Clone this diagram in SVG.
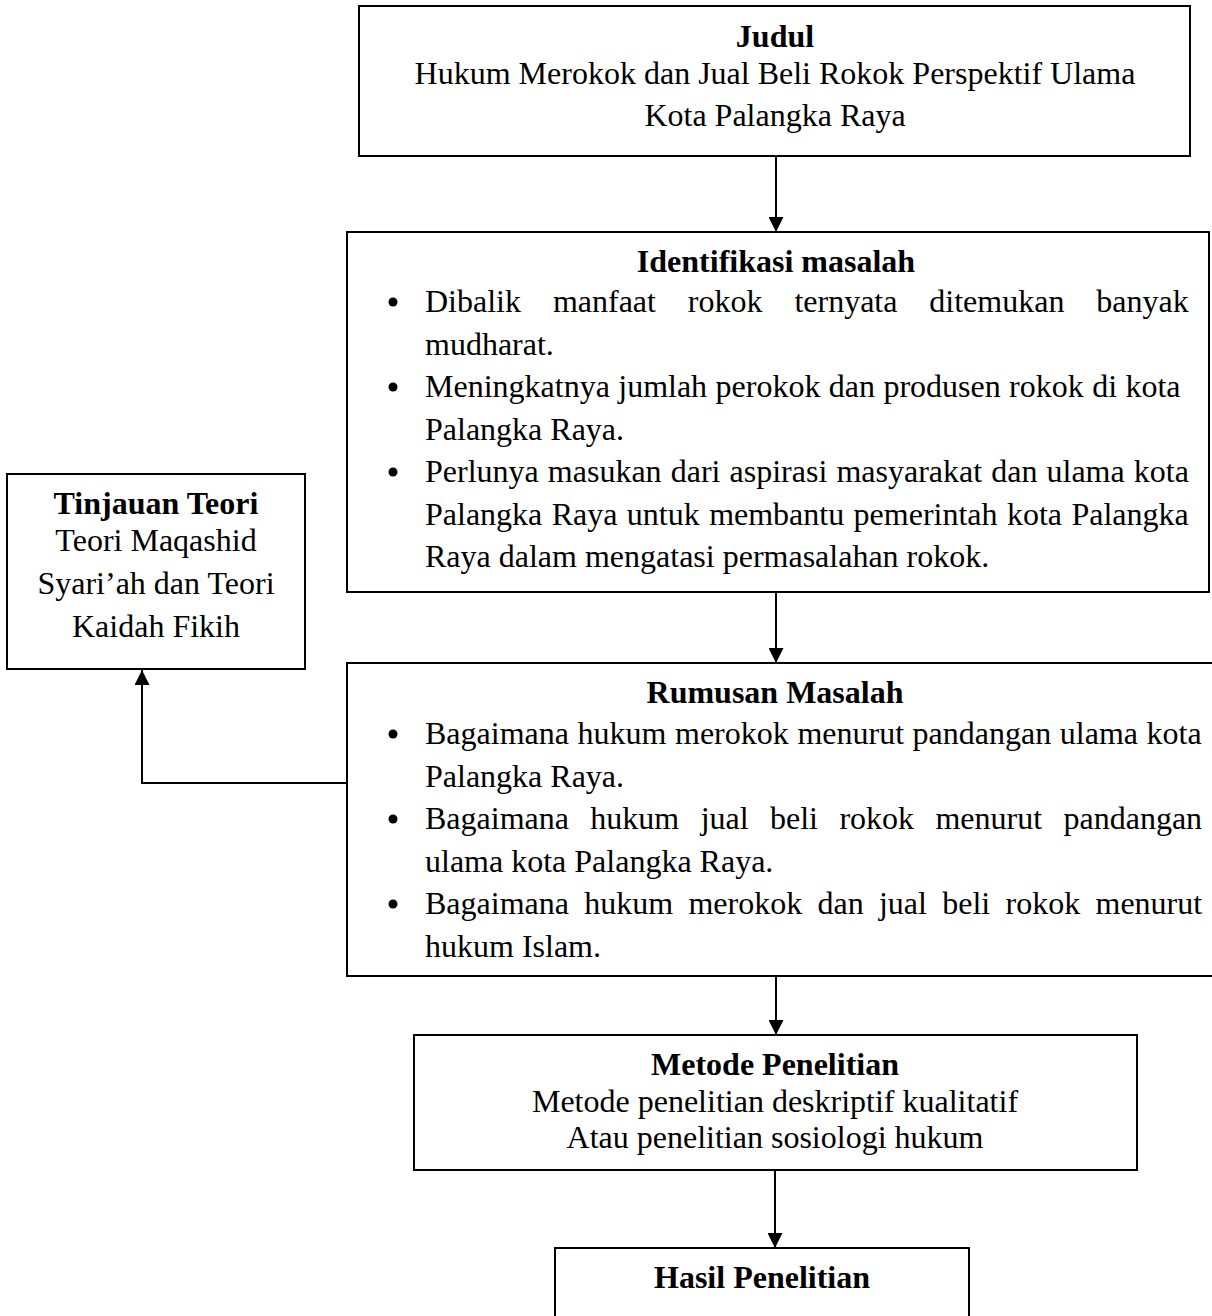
<svg xmlns="http://www.w3.org/2000/svg" width="1212" height="1316" viewBox="0 0 1212 1316">
<style>
.box{fill:#fff;stroke:#000;stroke-width:2}
text{font-family:"Liberation Serif","Times New Roman",serif;font-size:32px;fill:#000}
.t{font-weight:bold;text-anchor:middle}
.c{text-anchor:middle}
.conn{fill:none;stroke:#000;stroke-width:2}
.dot{fill:#000}
</style>
<defs>
<marker id="ah" markerUnits="userSpaceOnUse" markerWidth="15" markerHeight="15" refX="15" refY="7.5" orient="auto">
<path d="M0,0 L15,7.5 L0,15 z" fill="#000"/>
</marker>
</defs>
<rect width="1212" height="1316" fill="#fff"/>
<g id="connectors">
<line class="conn" x1="776" y1="156" x2="776" y2="232" marker-end="url(#ah)"/>
<line class="conn" x1="776" y1="592" x2="776" y2="663" marker-end="url(#ah)"/>
<line class="conn" x1="776" y1="976" x2="776" y2="1035" marker-end="url(#ah)"/>
<line class="conn" x1="775" y1="1170" x2="775" y2="1248" marker-end="url(#ah)"/>
<path class="conn" d="M347,783 H142 V670" marker-end="url(#ah)"/>
</g>
<g id="judul">
<rect class="box" x="359" y="6" width="831" height="150"/>
<text class="t" x="775" y="47">Judul</text>
<text class="c" x="775" y="84">Hukum Merokok dan Jual Beli Rokok Perspektif Ulama</text>
<text class="c" x="775" y="126">Kota Palangka Raya</text>
</g>
<g id="identifikasi">
<rect class="box" x="347" y="232" width="862" height="360"/>
<text class="t" x="776" y="272">Identifikasi masalah</text>
<circle class="dot" cx="393" cy="302" r="4.5"/>
<text x="425" y="312" word-spacing="23.9">Dibalik manfaat rokok ternyata ditemukan banyak</text>
<text x="425" y="354.5">mudharat.</text>
<circle class="dot" cx="393" cy="387" r="4.5"/>
<text x="425" y="397" word-spacing="0.4">Meningkatnya jumlah perokok dan produsen rokok di kota</text>
<text x="425" y="439.5">Palangka Raya.</text>
<circle class="dot" cx="393" cy="472" r="4.5"/>
<text x="425" y="482" word-spacing="1.1">Perlunya masukan dari aspirasi masyarakat dan ulama kota</text>
<text x="425" y="524.5" word-spacing="1.4">Palangka Raya untuk membantu pemerintah kota Palangka</text>
<text x="425" y="567">Raya dalam mengatasi permasalahan rokok.</text>
</g>
<g id="tinjauan">
<rect class="box" x="7" y="474" width="298" height="195"/>
<text class="t" x="156" y="514">Tinjauan Teori</text>
<text class="c" x="156" y="551">Teori Maqashid</text>
<text class="c" x="156" y="594">Syari’ah dan Teori</text>
<text class="c" x="156" y="637">Kaidah Fikih</text>
</g>
<g id="rumusan">
<rect class="box" x="347" y="663" width="880" height="313"/>
<text class="t" x="775" y="703">Rumusan Masalah</text>
<circle class="dot" cx="393" cy="734" r="4.5"/>
<text x="425" y="744" word-spacing="0.6">Bagaimana hukum merokok menurut pandangan ulama kota</text>
<text x="425" y="786.5">Palangka Raya.</text>
<circle class="dot" cx="393" cy="819" r="4.5"/>
<text x="425" y="829" word-spacing="13.4">Bagaimana hukum jual beli rokok menurut pandangan</text>
<text x="425" y="871.5">ulama kota Palangka Raya.</text>
<circle class="dot" cx="393" cy="904" r="4.5"/>
<text x="425" y="914" word-spacing="7.3">Bagaimana hukum merokok dan jual beli rokok menurut</text>
<text x="425" y="956.5">hukum Islam.</text>
</g>
<g id="metode">
<rect class="box" x="414" y="1035" width="723" height="135"/>
<text class="t" x="775" y="1075">Metode Penelitian</text>
<text class="c" x="775" y="1112">Metode penelitian deskriptif kualitatif</text>
<text class="c" x="775" y="1148">Atau penelitian sosiologi hukum</text>
</g>
<g id="hasil">
<rect class="box" x="555" y="1248" width="414" height="100"/>
<text class="t" x="762" y="1288">Hasil Penelitian</text>
</g>
</svg>
